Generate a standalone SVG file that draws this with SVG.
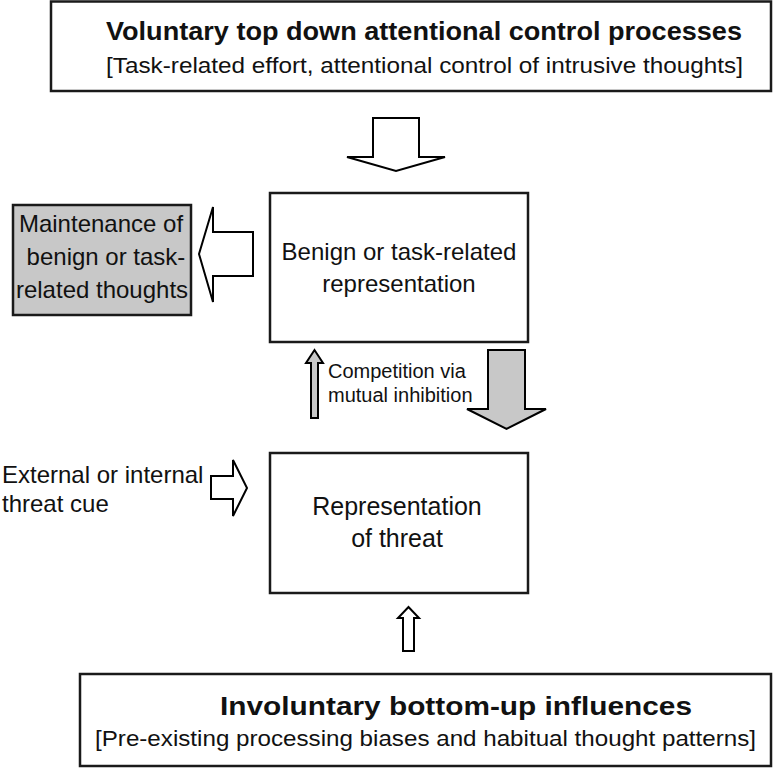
<svg xmlns="http://www.w3.org/2000/svg" width="773" height="768" viewBox="0 0 773 768">
<style>
.box{fill:#fff;stroke:#1a1a1a;stroke-width:2.5}
.grey{fill:#c8c8c8;stroke:#1a1a1a;stroke-width:2.5}
.hollow{fill:#fff;stroke:#000;stroke-width:2;stroke-linejoin:miter}
.filled{fill:#c8c8c8;stroke:#000;stroke-width:2;stroke-linejoin:miter}
text{font-family:"Liberation Sans",Arial,sans-serif;fill:#111}
.t{font-size:24px;text-anchor:middle}
.h{font-size:25px;font-weight:bold}
.s{font-size:22px}
.c{font-size:20px}
</style>
<rect width="773" height="768" fill="#fff"/>
<g id="top">
<rect class="box" x="51" y="1.5" width="720" height="89.5"/>
<text class="h" x="106" y="40" textLength="636" lengthAdjust="spacingAndGlyphs">Voluntary top down attentional control processes</text>
<text class="s" x="106" y="73" textLength="637" lengthAdjust="spacingAndGlyphs">[Task-related effort, attentional control of intrusive thoughts]</text>
</g>
<g id="benign">
<rect class="box" x="270" y="193" width="258" height="149"/>
<text class="t" x="399" y="260">Benign or task-related</text>
<text class="t" x="399" y="292">representation</text>
</g>
<g id="maintenance">
<rect class="grey" x="13" y="205" width="178" height="110"/>
<text class="t" x="101" y="232">Maintenance of</text>
<text class="t" x="106" y="265">benign or task-</text>
<text class="t" x="102" y="298">related thoughts</text>
</g>
<g id="threat">
<rect class="box" x="270" y="453" width="258" height="140"/>
<text class="t" x="397" y="515" style="font-size:25px">Representation</text>
<text class="t" x="397" y="547" style="font-size:25px">of threat</text>
</g>
<g id="cue">
<text class="t" x="2" y="483" style="text-anchor:start">External or internal</text>
<text class="t" x="2" y="512" style="text-anchor:start">threat cue</text>
</g>
<g id="bottom">
<rect class="box" x="80" y="674" width="691" height="92"/>
<text class="h" x="220" y="715" style="font-size:26px" textLength="472" lengthAdjust="spacingAndGlyphs">Involuntary bottom-up influences</text>
<text class="s" x="95" y="746" textLength="661" lengthAdjust="spacingAndGlyphs">[Pre-existing processing biases and habitual thought patterns]</text>
</g>
<g id="connectors">
<polygon class="hollow" points="373,118 419,118 419,157 445,157 396,171 347,157 373,157"/>
<polygon class="hollow" points="253,232 253,276 213,276 213,302 199,254 213,207 213,232"/>
<polygon class="filled" points="311,418 318,418 318,363 323,363 314.5,350 306,363 311,363"/>
<polygon class="filled" points="488,350 525,350 525,409 546,409 506.5,429 467,409 488,409"/>
<text class="c" x="328" y="378">Competition via</text>
<text class="c" x="328" y="402">mutual inhibition</text>
<polygon class="hollow" points="211,476 233,476 233,460 247,488 233,516 233,499 211,499"/>
<polygon class="hollow" points="403,651 414,651 414,618 419,618 408.5,607 398,618 403,618"/>
</g>
</svg>
